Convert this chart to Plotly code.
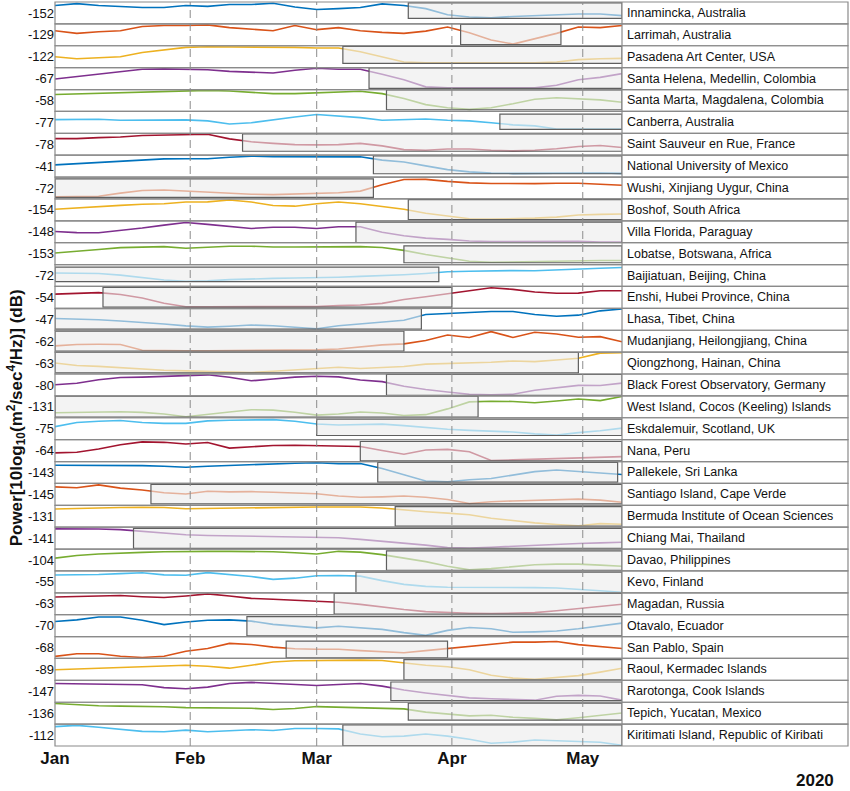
import pandas as pd
import plotly.graph_objects as go
from plotly.subplots import make_subplots

stations = [
    "Innamincka, Australia", "Larrimah, Australia", "Pasadena Art Center, USA",
    "Santa Helena, Medellin, Colombia", "Santa Marta, Magdalena, Colombia",
    "Canberra, Australia", "Saint Sauveur en Rue, France", "National University of Mexico",
    "Wushi, Xinjiang Uygur, China", "Boshof, South Africa", "Villa Florida, Paraguay",
    "Lobatse, Botswana, Africa", "Baijiatuan, Beijing, China", "Enshi, Hubei Province, China",
    "Lhasa, Tibet, China", "Mudanjiang, Heilongjiang, China", "Qiongzhong, Hainan, China",
    "Black Forest Observatory, Germany", "West Island, Cocos (Keeling) Islands",
    "Eskdalemuir, Scotland, UK", "Nana, Peru", "Pallekele, Sri Lanka",
    "Santiago Island, Cape Verde", "Bermuda Institute of Ocean Sciences",
    "Chiang Mai, Thailand", "Davao, Philippines", "Kevo, Finland", "Magadan, Russia",
    "Otavalo, Ecuador", "San Pablo, Spain", "Raoul, Kermadec Islands",
    "Rarotonga, Cook Islands", "Tepich, Yucatan, Mexico",
    "Kiritimati Island, Republic of Kiribati",
]

# reference power level of each station, dB (shown as the row tick label)
ref_level_db = [-152, -129, -122, -67, -58, -77, -78, -41, -72, -154, -148, -153, -72,
                -54, -47, -62, -63, -80, -131, -75, -64, -143, -145, -131, -141, -104,
                -55, -63, -70, -68, -89, -147, -136, -112]

# lockdown period of each station
lock_start = ["2020-03-22", "2020-04-03", "2020-03-07", "2020-03-13", "2020-03-17",
              "2020-04-12", "2020-02-13", "2020-03-14", "2020-01-01", "2020-03-22",
              "2020-03-10", "2020-03-21", "2020-01-01", "2020-01-12", "2020-01-01",
              "2020-01-01", "2020-01-01", "2020-03-17", "2020-01-01", "2020-03-01",
              "2020-03-11", "2020-03-15", "2020-01-23", "2020-03-19", "2020-01-19",
              "2020-03-17", "2020-03-10", "2020-03-05", "2020-02-14", "2020-02-23",
              "2020-03-21", "2020-03-18", "2020-03-22", "2020-03-07"]
lock_end = ["2020-05-10", "2020-04-26", "2020-05-10", "2020-05-10", "2020-05-10",
            "2020-05-10", "2020-05-10", "2020-05-10", "2020-03-14", "2020-05-10",
            "2020-05-10", "2020-05-10", "2020-03-29", "2020-04-01", "2020-03-25",
            "2020-03-21", "2020-04-30", "2020-05-10", "2020-04-07", "2020-05-10",
            "2020-05-10", "2020-05-09", "2020-05-10", "2020-05-10", "2020-05-10",
            "2020-05-10", "2020-05-10", "2020-05-10", "2020-05-10", "2020-03-31",
            "2020-05-10", "2020-05-10", "2020-05-10", "2020-05-10"]

# sample dates (every 5 days)
dates = pd.date_range("2020-01-01", "2020-05-10", freq="5D")

# power relative to the reference level, dB
rel_power_db = [
    [3.6, 4.5, 3.6, 3.2, 2.6, 2.6, 3.6, 3.2, 4.1, 4.1, 4.7, 2.9, 1.7, 2.1, 2.6, 4.4, 3.6, 2.1, -0.9, -2.0, -2.4, -1.7, -1.3, -0.9, -0.5, -0.5, -1.3],
    [2.0, 0.7, 1.5, 2.0, 4.0, 4.5, 4.5, 4.8, 3.5, 2.8, 2.0, 4.5, 2.5, 3.5, 2.0, 1.2, 0.7, 1.8, 3.8, 1.0, -2.5, -4.5, -2.0, 0.7, 3.8, 3.5, 4.5],
    [0.0, -1.0, -0.5, 0.0, 2.0, 3.2, 4.5, 4.8, 4.8, 4.8, 4.8, 4.5, 4.2, 4.2, 2.4, 0.0, -2.6, -3.0, -3.0, -3.0, -3.0, -3.0, -3.0, -2.6, -1.4, -1.0, -0.8],
    [-0.2, 1.0, 2.1, 3.5, 4.5, 4.7, 4.5, 4.3, 3.5, 3.0, 2.7, 4.0, 5.0, 4.5, 4.5, 2.1, -0.6, -4.0, -4.5, -4.5, -4.5, -4.5, -4.5, -3.2, -0.6, 0.6, 2.4],
    [2.9, 3.2, 3.5, 3.8, 4.0, 4.3, 4.6, 4.9, 4.6, 3.8, 3.3, 3.3, 3.8, 4.2, 4.5, 3.3, 1.0, -2.0, -3.5, -4.3, -3.5, -1.6, 0.6, 1.3, 0.9, 0.3, -0.9],
    [1.3, 1.3, 1.5, 1.0, 1.0, 1.0, 1.2, 0.7, -0.8, -0.2, 1.3, 2.6, 3.8, 3.2, 2.3, 1.0, 1.3, 1.6, 1.0, 0.7, -0.2, -1.2, -1.7, -3.2, -3.2, -3.2, -3.2],
    [2.7, 2.7, 3.2, 3.5, 4.2, 4.5, 4.8, 4.8, 2.6, 1.2, 0.4, -0.2, -0.3, -0.2, 0.4, -0.8, -2.6, -2.9, -2.3, -2.3, -2.9, -3.2, -2.9, -2.2, -1.1, -0.6, -1.6],
    [0.6, 1.2, 1.8, 2.4, 3.2, 3.5, 3.6, 3.6, 4.3, 4.8, 4.6, 4.6, 4.8, 4.8, 4.5, 2.9, 2.0, 0.1, -1.7, -2.8, -3.4, -3.5, -3.4, -3.3, -3.2, -3.3, -3.5],
    [-4.3, -4.3, -4.0, -2.5, -1.2, -1.0, -1.5, -2.3, -2.8, -3.0, -3.2, -3.0, -2.8, -2.3, -1.5, 1.6, 4.1, 4.2, 3.2, 2.5, 2.2, 2.1, 2.1, 2.3, 2.3, 1.8, 1.3],
    [0.3, 1.0, 1.8, 2.2, 2.7, 3.0, 3.8, 3.9, 4.8, 3.8, 2.1, 1.8, 3.0, 3.8, 3.0, 1.8, 0.3, -1.6, -3.1, -4.3, -4.5, -4.3, -4.0, -3.5, -2.5, -2.2, -2.0],
    [0.1, -0.4, -0.5, 0.5, 1.8, 3.2, 4.5, 3.6, 2.6, 1.6, 2.2, 2.2, 1.6, 2.4, 2.4, -0.2, -1.9, -3.1, -3.7, -4.5, -4.8, -4.8, -4.7, -4.6, -4.6, -5.0, -5.0],
    [0.3, 1.0, 2.0, 2.9, 3.2, 3.4, 2.6, 3.0, 3.6, 3.6, 3.2, 3.2, 3.3, 3.5, 3.4, 3.0, 1.6, -0.4, -2.2, -3.7, -4.2, -4.0, -3.7, -3.5, -3.4, -3.3, -3.3],
    [1.2, 1.2, 1.0, 0.2, -1.0, -2.2, -2.8, -2.6, -2.0, -1.6, -1.4, -1.2, -1.1, -0.8, -0.4, -0.1, 0.4, 1.0, 1.8, 2.1, 2.3, 2.4, 2.3, 2.6, 3.1, 3.5, 3.9],
    [1.6, 2.0, 2.3, 1.4, -0.3, -2.8, -4.5, -4.5, -4.5, -4.5, -4.5, -4.5, -4.4, -4.0, -3.7, -2.9, -1.0, 0.3, 1.6, 3.2, 4.7, 3.9, 2.6, 2.0, 2.1, 3.2, 3.2],
    [0.4, 0.2, -0.2, -0.8, -1.4, -2.3, -3.2, -3.8, -3.4, -2.8, -3.1, -3.8, -4.6, -3.1, -2.3, -1.6, -0.5, 2.3, 2.9, 3.3, 3.8, 3.8, 2.3, 1.5, 2.0, 4.1, 5.0],
    [-2.3, -1.6, -1.5, -1.6, -4.4, -4.6, -4.6, -4.6, -4.5, -4.5, -4.4, -4.4, -4.2, -3.8, -2.8, -1.8, -1.3, 0.3, 3.0, 1.8, 4.6, 1.8, 4.3, 3.5, 1.9, 2.2, -0.3],
    [0.0, -1.2, -1.6, -2.3, -3.1, -3.5, -3.8, -4.1, -4.4, -4.6, -4.0, -3.3, -2.5, -2.0, -2.6, -2.3, -1.7, -0.5, -0.2, -0.2, 0.4, 1.0, 0.7, 1.5, 2.3, 4.8, 5.0],
    [0.1, 0.8, 2.5, 3.6, 3.8, 4.1, 4.4, 4.9, 3.7, 2.0, 2.9, 3.8, 4.2, 3.9, 2.4, 1.6, -0.6, -2.2, -3.4, -4.5, -4.8, -4.5, -2.6, -1.4, -0.2, -0.3, 0.9],
    [-2.9, -2.7, -2.5, -2.4, -2.7, -3.5, -4.8, -3.5, -2.5, -1.4, -1.6, -2.6, -4.0, -3.5, -2.5, -3.0, -4.2, -3.8, -1.0, 2.4, 2.7, 2.6, 2.0, 2.8, 3.8, 3.0, 5.0],
    [1.0, 3.0, 3.6, 4.0, 3.0, 2.6, 2.6, 3.8, 4.1, 4.2, 4.4, 3.6, 2.3, 1.8, 2.0, 2.2, 1.5, 0.5, -0.3, -0.8, -1.1, -1.6, -2.5, -3.1, -1.9, -1.0, 0.3],
    [-1.1, -0.8, 0.8, 2.8, 4.2, 4.0, 3.2, 3.9, 1.2, 1.8, 2.5, 2.6, 2.4, 2.3, 2.0, 0.0, -1.8, 0.3, 0.6, -0.6, -4.8, -4.5, -4.2, -4.0, -3.8, -3.5, -2.9],
    [3.5, 3.5, 3.3, 3.2, 3.3, 3.0, 2.5, 3.0, 3.4, 4.0, 4.2, 4.5, 4.7, 4.3, 4.3, 1.9, -1.1, -4.1, -4.5, -3.5, -2.9, -1.1, 0.4, 1.2, 0.4, -0.3, -1.0],
    [3.6, 3.2, 4.6, 3.0, 2.1, 0.8, 0.2, 1.5, 1.2, 1.3, 1.0, 0.8, 0.3, -0.8, -1.4, -1.2, -0.8, -1.4, -2.5, -4.4, -3.6, -3.2, -2.9, -2.5, -2.3, -2.8, -3.8],
    [3.5, 3.8, 4.0, 4.2, 4.3, 4.2, 3.6, 3.8, 4.0, 3.9, 4.2, 4.5, 4.5, 4.5, 4.5, 4.0, 3.0, 2.2, 1.5, 0.7, -1.0, -2.2, -3.2, -4.0, -4.6, -3.6, -3.9],
    [4.5, 4.5, 4.4, 4.1, 3.2, 2.2, 1.6, 1.3, 1.1, 1.0, 0.8, 0.5, 0.2, 0.2, -0.6, -1.5, -2.5, -3.4, -4.6, -4.8, -4.4, -3.9, -3.5, -3.0, -2.6, -2.3, -2.0],
    [0.9, 2.2, 2.9, 3.4, 3.7, 4.0, 4.2, 4.2, 4.2, 4.2, 4.0, 3.5, 2.9, 4.2, 3.8, 2.6, 1.0, -0.8, -3.0, -4.8, -4.2, -3.4, -2.3, -2.0, -2.0, -2.5, -3.0],
    [3.3, 3.4, 3.6, 4.0, 4.4, 3.4, 3.2, 4.5, 3.6, 2.6, 1.2, 1.8, 3.0, 3.1, 2.8, 0.6, -1.2, -2.2, -2.6, -2.6, -2.6, -2.5, -2.8, -3.0, -3.5, -4.3, -5.0],
    [3.3, 3.6, 3.9, 4.0, 3.4, 3.0, 3.8, 4.8, 3.8, 2.6, 2.2, 1.7, 1.3, 0.7, -0.3, -1.6, -2.8, -3.8, -4.3, -4.6, -4.8, -4.6, -4.3, -3.4, -2.4, -1.3, -0.2],
    [2.0, 2.8, 4.2, 4.2, 2.6, 0.5, 1.8, 2.6, 2.8, 2.2, 0.6, -0.3, -1.1, -0.3, -1.0, -1.8, -3.4, -4.7, -2.3, -0.9, -1.5, -3.2, -3.0, -2.6, -1.5, -0.3, 1.2],
    [-4.3, -3.0, -3.0, -4.2, -4.8, -4.2, -1.8, -0.5, 2.0, 1.5, 0.2, -0.6, -0.8, -0.8, -1.5, -2.0, -2.5, -1.5, -0.5, 0.5, 1.5, 2.6, 2.6, 2.9, 1.4, 0.3, -0.5],
    [-0.2, 0.2, 0.6, 0.9, 1.2, 1.5, 2.0, 1.5, 0.6, 2.0, 3.6, 4.2, 4.3, 4.5, 4.5, 4.3, 3.0, 2.0, 1.3, -0.2, -2.8, -4.2, -4.8, -4.0, -3.0, -1.3, 0.6],
    [3.8, 3.6, 3.5, 3.4, 3.2, 1.8, 1.2, 2.0, 3.8, 4.3, 3.9, 3.2, 2.8, 3.3, 3.8, 2.5, 0.6, -0.8, -2.0, -3.2, -3.6, -4.1, -4.3, -2.4, -2.0, -2.3, -4.3],
    [4.7, 4.0, 3.6, 3.4, 3.3, 3.1, 2.7, 2.6, 2.5, 2.4, 1.8, 2.3, 3.2, 2.9, 2.5, 2.3, 2.1, 0.5, -0.3, -1.3, -1.0, -2.0, -2.5, -3.2, -2.2, -0.9, 0.1],
    [4.1, 4.7, 3.8, 2.8, 1.8, 1.6, 2.4, 1.6, 2.2, 2.6, 2.2, 3.2, 3.2, 3.0, 0.5, -0.8, -0.5, 0.5, -0.5, -2.0, -4.0, -3.4, -2.4, -2.7, -2.9, -3.5, -5.0],
]

month_ticks = ["2020-01-01", "2020-02-01", "2020-03-01", "2020-04-01", "2020-05-01"]
month_labels = ["Jan", "Feb", "Mar", "Apr", "May"]

colors = ["#0072BD", "#D95319", "#EDB120", "#7E2F8E", "#77AC30", "#4DBEEE", "#A2142F"]
FONT = "Liberation Sans, Arial, Helvetica, sans-serif"

n = len(stations)
fig = make_subplots(rows=n, cols=1, shared_xaxes=True, vertical_spacing=0)

label_right = (848 - 55) / 567.0

for i in range(n):
    r = i + 1
    c = colors[i % len(colors)]
    fig.add_trace(go.Scatter(x=dates, y=rel_power_db[i], mode="lines",
                             line=dict(color=c, width=1.6), showlegend=False,
                             hoverinfo="skip"), row=r, col=1)
    lo, hi = min(rel_power_db[i]), max(rel_power_db[i])
    # lockdown box
    fig.add_shape(type="rect", x0=lock_start[i], x1=lock_end[i], y0=lo - 0.2, y1=hi + 0.2,
                  row=r, col=1, layer="above",
                  fillcolor="rgba(236,236,236,0.62)", line=dict(color="#5f5f5f", width=1.2))
    yname = "y" if r == 1 else f"y{r}"
    # row frame across data + label area
    fig.add_shape(type="rect", xref="paper", x0=0, x1=label_right,
                  yref=f"{yname} domain", y0=0, y1=1, layer="above",
                  line=dict(color="#8a8a8a", width=1.2), fillcolor="rgba(0,0,0,0)")
    fig.add_annotation(text=stations[i], xref="paper", x=1.006, xanchor="left",
                       yref=f"{yname} domain", y=0.5, yanchor="middle", showarrow=False,
                       font=dict(family=FONT, size=12.5, color="#111111"))
    fig.update_yaxes(row=r, col=1, range=[-5.3, 5.3], tickvals=[0],
                     ticktext=[str(ref_level_db[i])], showgrid=False, zeroline=False,
                     ticks="", showline=False, fixedrange=True,
                     tickfont=dict(family=FONT, size=13, color="#111111"))

# separator between data area and labels
fig.add_shape(type="line", xref="paper", x0=1, x1=1, yref="paper", y0=0, y1=1,
              layer="above", line=dict(color="#8a8a8a", width=1.2))

# month dashed lines
for m in month_ticks[1:]:
    fig.add_shape(type="line", xref="x", x0=m, x1=m, yref="paper", y0=0, y1=1,
                  layer="above", line=dict(color="#8c8c8c", width=1, dash="8px,5px"))

fig.update_xaxes(range=["2020-01-01", "2020-05-10"], showgrid=False, zeroline=False,
                 showline=False, ticks="", tickvals=month_ticks,
                 ticktext=[f"<b>{t}</b>" for t in month_labels],
                 tickfont=dict(family=FONT, size=17, color="#111111"))

fig.add_annotation(text="<b>Power[10log<sub>10</sub>(m<sup>2</sup>/sec<sup>4</sup>/Hz)] (dB)</b>",
                   xref="paper", x=-0.068, xanchor="center", yref="paper", y=0.441,
                   yanchor="middle", textangle=-90, showarrow=False,
                   font=dict(family=FONT, size=17, color="#111111"))
fig.add_annotation(text="<b>2020</b>", xref="paper", x=1.34, xanchor="center",
                   yref="paper", y=-0.047, yanchor="middle", showarrow=False,
                   font=dict(family=FONT, size=17, color="#111111"))

fig.update_layout(width=850, height=791, margin=dict(l=55, r=228, t=2, b=45),
                  paper_bgcolor="white", plot_bgcolor="white", showlegend=False,
                  font=dict(family=FONT))

fig.write_html("out.html", config={"displayModeBar": False},
               post_script="document.body.style.margin='0px';document.body.style.overflow='hidden';")
